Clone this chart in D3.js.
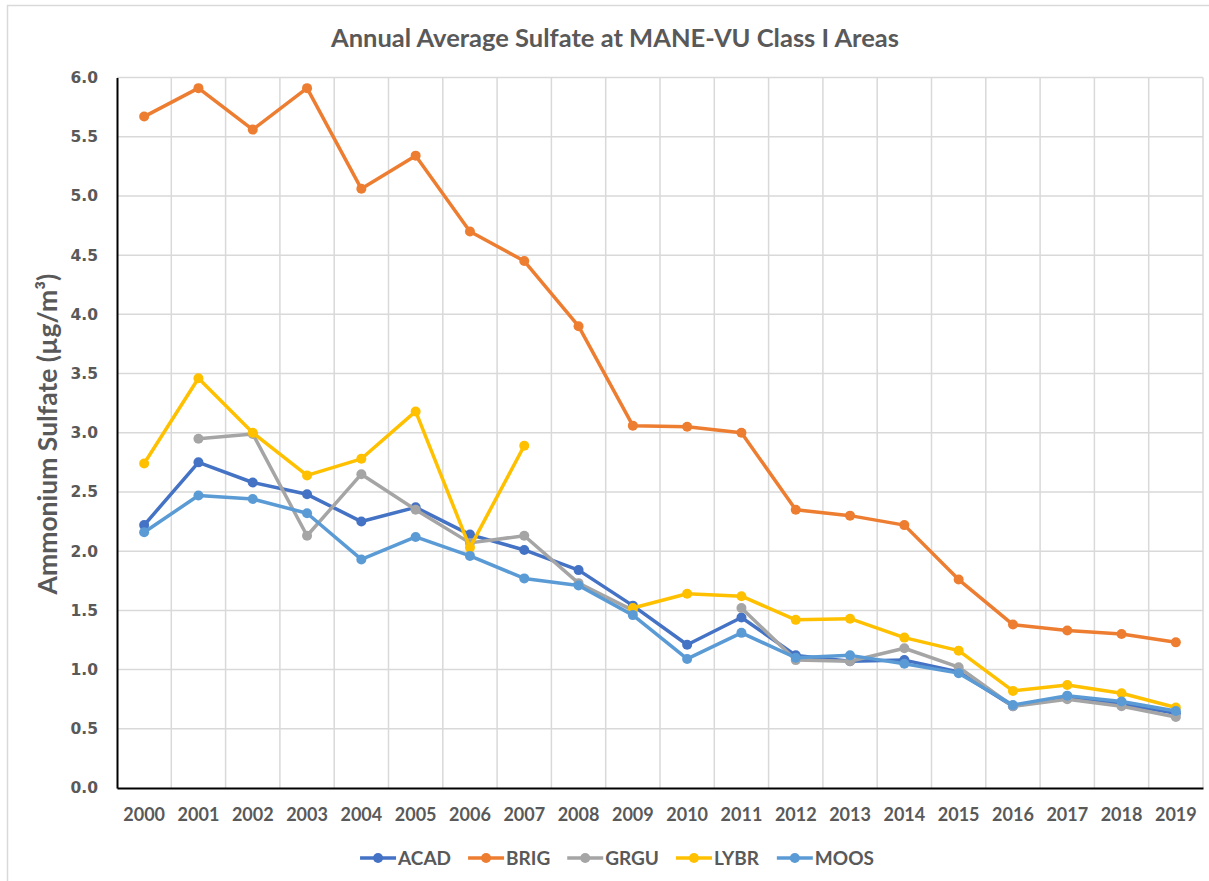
<!DOCTYPE html>
<html>
<head>
<meta charset="utf-8">
<title>Annual Average Sulfate at MANE-VU Class I Areas</title>
<script src="https://cdn.jsdelivr.net/npm/d3@7"></script>
<style>
    body { margin: 0; background: #ffffff; }
    svg { display: block; }
</style>
</head>
<body>
<div id="chart"></div>
<script>
'use strict';

// categories and tick values
var years = ['2000', '2001', '2002', '2003', '2004', '2005', '2006', '2007', '2008', '2009',
             '2010', '2011', '2012', '2013', '2014', '2015', '2016', '2017', '2018', '2019'];
var yTicks = [0, 0.5, 1, 1.5, 2, 2.5, 3, 3.5, 4, 4.5, 5, 5.5, 6];

// series values (ug/m3), null = no data that year
var acad = [2.22, 2.75, 2.58, 2.48, 2.25, 2.37, 2.14, 2.01, 1.84, 1.54,
            1.21, 1.44, 1.12, 1.07, 1.08, 0.98, 0.69, 0.77, 0.71, 0.63];
var brig = [5.67, 5.91, 5.56, 5.91, 5.06, 5.34, 4.70, 4.45, 3.90, 3.06,
            3.05, 3.00, 2.35, 2.30, 2.22, 1.76, 1.38, 1.33, 1.30, 1.23];
var grgu = [null, 2.95, 2.99, 2.13, 2.65, 2.35, 2.07, 2.13, 1.73, 1.50,
            null, 1.52, 1.08, 1.07, 1.18, 1.02, 0.69, 0.75, 0.69, 0.60];
var lybr = [2.74, 3.46, 3.00, 2.64, 2.78, 3.18, 2.03, 2.89, null, 1.52,
            1.64, 1.62, 1.42, 1.43, 1.27, 1.16, 0.82, 0.87, 0.80, 0.68];
var moos = [2.16, 2.47, 2.44, 2.32, 1.93, 2.12, 1.96, 1.77, 1.71, 1.46,
            1.09, 1.31, 1.10, 1.12, 1.05, 0.97, 0.70, 0.78, 0.73, 0.65];

var siteNames = ['ACAD', 'BRIG', 'GRGU', 'LYBR', 'MOOS'];
var siteColors = ['#4472C4', '#ED7D31', '#A5A5A5', '#FFC000', '#5B9BD5'];

var series = [acad, brig, grgu, lybr, moos].map(function (values, i) {
    return {
        name: siteNames[i],
        color: siteColors[i],
        points: values.map(function (v, j) { return { year: years[j], value: v }; })
    };
});

var width = 1209;
var height = 881;
var plotLeft = 117;
var plotRight = 1203;
var plotTop = 77.5;
var plotBottom = 788;
var textColor = '#595959';
var gridColor = '#d9d9d9';
var labelFont = 'Lato, "Open Sans", sans-serif';
var lineWidth = 3.5;
var markerRadius = 5;

var svg = d3.select('#chart').append('svg')
    .attr('width', width)
    .attr('height', height);

// chart border (runs off the right / bottom edge like the original)
svg.append('rect')
    .attr('x', 7.5)
    .attr('y', 5.5)
    .attr('width', 1240)
    .attr('height', 900)
    .attr('fill', '#ffffff')
    .attr('stroke', gridColor)
    .attr('stroke-width', 1.5);

var x = d3.scaleBand()
    .domain(years)
    .range([plotLeft, plotRight]);

var y = d3.scaleLinear()
    .domain([0, 6])
    .range([plotBottom, plotTop]);

// grid
var grid = svg.append('g').attr('class', 'grid');

grid.selectAll('line.h')
    .data(yTicks.slice(1))
    .enter().append('line')
    .attr('class', 'h')
    .attr('x1', plotLeft)
    .attr('x2', plotRight)
    .attr('y1', function (d) { return y(d); })
    .attr('y2', function (d) { return y(d); })
    .attr('stroke', gridColor)
    .attr('stroke-width', 1.5);

grid.selectAll('line.v')
    .data(years.slice(1).concat(['end']))
    .enter().append('line')
    .attr('class', 'v')
    .attr('x1', function (d) { return d === 'end' ? plotRight : x(d); })
    .attr('x2', function (d) { return d === 'end' ? plotRight : x(d); })
    .attr('y1', plotTop)
    .attr('y2', plotBottom)
    .attr('stroke', gridColor)
    .attr('stroke-width', 1.5);

// axes
var yAxis = svg.append('g')
    .attr('transform', 'translate(' + plotLeft + ',0)')
    .call(d3.axisLeft(y).tickValues(yTicks).tickFormat(d3.format('.1f')).tickSize(0).tickPadding(19));

yAxis.select('.domain').attr('stroke', '#000000').attr('stroke-width', 2);
yAxis.selectAll('text')
    .attr('fill', textColor)
    .attr('font-family', '"DejaVu Sans", Verdana, sans-serif')
    .attr('font-weight', 'bold')
    .attr('font-size', '15.5px');

var xAxis = svg.append('g')
    .attr('transform', 'translate(0,' + plotBottom + ')')
    .call(d3.axisBottom(x).tickSize(0).tickPadding(20));

xAxis.select('.domain').attr('stroke', '#000000').attr('stroke-width', 2);
xAxis.selectAll('text')
    .attr('fill', textColor)
    .attr('font-family', labelFont)
    .attr('font-weight', 'bold')
    .attr('font-size', '18px');

// lines and markers
var line = d3.line()
    .defined(function (d) { return d.value !== null; })
    .x(function (d) { return x(d.year) + x.bandwidth() / 2; })
    .y(function (d) { return y(d.value); });

var layer = svg.selectAll('g.series')
    .data(series)
    .enter().append('g')
    .attr('class', 'series');

layer.append('path')
    .attr('d', function (d) { return line(d.points); })
    .attr('fill', 'none')
    .attr('stroke', function (d) { return d.color; })
    .attr('stroke-width', lineWidth)
    .attr('stroke-linejoin', 'round');

layer.selectAll('circle')
    .data(function (d) {
        return d.points.filter(function (p) { return p.value !== null; })
            .map(function (p) { return { year: p.year, value: p.value, color: d.color }; });
    })
    .enter().append('circle')
    .attr('cx', function (d) { return x(d.year) + x.bandwidth() / 2; })
    .attr('cy', function (d) { return y(d.value); })
    .attr('r', markerRadius)
    .attr('fill', function (d) { return d.color; });

// title
svg.append('text')
    .attr('x', 615)
    .attr('y', 47)
    .attr('text-anchor', 'middle')
    .attr('fill', textColor)
    .attr('font-family', labelFont)
    .attr('font-weight', 'bold')
    .attr('font-size', '25.5px')
    .text('Annual Average Sulfate at MANE-VU Class I Areas');

// y axis title
svg.append('text')
    .attr('transform', 'translate(57,434) rotate(-90)')
    .attr('text-anchor', 'middle')
    .attr('fill', textColor)
    .attr('font-family', labelFont)
    .attr('font-weight', 'bold')
    .attr('font-size', '26.5px')
    .text('Ammonium Sulfate (µg/m³)');

// legend, measured and centred under the chart
var legend = svg.append('g').attr('class', 'legend');
var legendY = 858;
var symbolWidth = 36;
var items = legend.selectAll('g')
    .data(series)
    .enter().append('g');

items.append('line')
    .attr('x1', 0)
    .attr('x2', symbolWidth)
    .attr('y1', legendY)
    .attr('y2', legendY)
    .attr('stroke', function (d) { return d.color; })
    .attr('stroke-width', lineWidth);

items.append('circle')
    .attr('cx', symbolWidth / 2)
    .attr('cy', legendY)
    .attr('r', markerRadius)
    .attr('fill', function (d) { return d.color; });

items.append('text')
    .attr('x', symbolWidth + 2)
    .attr('y', legendY)
    .attr('dy', '0.35em')
    .attr('fill', textColor)
    .attr('font-family', labelFont)
    .attr('font-weight', 'bold')
    .attr('font-size', '19px')
    .text(function (d) { return d.name; });

var gap = 17;
var offsets = [];
var total = 0;
items.each(function () {
    var w = this.getBBox().width;
    offsets.push(total);
    total += w + gap;
});
total -= gap;
var legendStart = 617 - total / 2;
items.attr('transform', function (d, i) { return 'translate(' + (legendStart + offsets[i]) + ',0)'; });
</script>
</body>
</html>
